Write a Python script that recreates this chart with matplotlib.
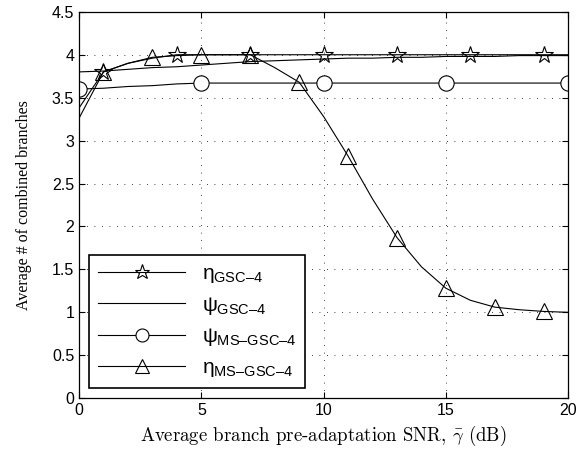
import matplotlib
matplotlib.use('Agg')
import matplotlib.pyplot as plt

plt.rcParams['mathtext.fontset'] = 'cm'
plt.rcParams['mathtext.rm'] = 'Liberation Sans'
plt.rcParams['mathtext.it'] = 'Liberation Sans'
plt.rcParams['mathtext.sf'] = 'Liberation Sans'

snr = list(range(0, 21))

eta_gsc = [3.26, 3.80, 3.90, 3.96, 4.00, 4.00, 4.00, 4.00, 4.00, 4.00, 4.00,
           4.00, 4.00, 4.00, 4.00, 4.00, 4.00, 4.00, 4.00, 4.00, 4.00]
psi_gsc = [3.80, 3.81, 3.83, 3.85, 3.86, 3.88, 3.90, 3.92, 3.93, 3.94, 3.95,
           3.96, 3.96, 3.97, 3.97, 3.98, 3.98, 3.98, 3.99, 3.99, 3.99]
psi_ms = [3.60, 3.61, 3.63, 3.64, 3.66, 3.67, 3.67, 3.67, 3.67, 3.67, 3.67,
          3.67, 3.67, 3.67, 3.67, 3.67, 3.67, 3.67, 3.67, 3.67, 3.67]
eta_ms = [3.38, 3.80, 3.90, 3.97, 3.99, 4.00, 4.00, 4.00, 3.85, 3.68, 3.28,
          2.82, 2.32, 1.87, 1.53, 1.28, 1.14, 1.06, 1.03, 1.01, 1.00]

labels = [r'$\eta_{\mathsf{GSC{\u2013}4}}$', r'$\psi_{\mathsf{GSC{\u2013}4}}$',
          r'$\psi_{\mathsf{MS{\u2013}GSC{\u2013}4}}$', r'$\eta_{\mathsf{MS{\u2013}GSC{\u2013}4}}$']
labels = [l.replace('\\u2013', '\u2013') for l in labels]

fig = plt.figure(figsize=(5.81, 4.54), dpi=100)
ax = fig.add_axes([0.136, 0.123, 0.842, 0.851])

lw = 0.8
ax.plot(snr, eta_gsc, 'k-', lw=lw, marker='*', ms=13, mfc='none', mew=0.8,
        markevery=slice(1, None, 3), label=labels[0])
ax.plot(snr, psi_gsc, 'k-', lw=lw, label=labels[1])
ax.plot(snr, psi_ms, 'k-', lw=lw, marker='o', ms=11, mfc='white', mew=0.8,
        markevery=slice(0, None, 5), label=labels[2])
ax.plot(snr, eta_ms, 'k-', lw=lw, marker='^', ms=12, mfc='none', mew=0.8,
        markevery=slice(1, None, 2), label=labels[3])

ax.set_xlim(0, 20)
ax.set_ylim(0, 4.5)
ax.set_xticks([0, 5, 10, 15, 20])
ax.set_yticks([0, 0.5, 1, 1.5, 2, 2.5, 3, 3.5, 4, 4.5])
ax.set_yticklabels(['0', '0.5', '1', '1.5', '2', '2.5', '3', '3.5', '4', '4.5'])
ax.tick_params(direction='in', top=True, right=True, labelsize=11.5, length=4)
for lab in ax.get_xticklabels() + ax.get_yticklabels():
    lab.set_family('Liberation Sans')
ax.grid(True, color='k', linestyle=(0, (1, 8)), linewidth=0.6)
for sp in ax.spines.values():
    sp.set_linewidth(0.9)

ax.set_xlabel(r'Average branch pre-adaptation SNR, $\bar{\gamma}$ (dB)',
              family='cmr10', fontsize=13.5, labelpad=4, math_fontfamily='cm')
ax.set_ylabel('Average # of combined branches', family='Liberation Serif',
              fontsize=11.5, labelpad=14)

leg = ax.legend(loc='lower left', bbox_to_anchor=(0.0, 0.0), fontsize=15,
                handlelength=4.2, fancybox=False, edgecolor='k',
                framealpha=1, borderpad=0.4, labelspacing=0.45,
                markerscale=0.85)
for t in leg.get_texts():
    t.set_math_fontfamily('custom')
leg.get_frame().set_linewidth(1.2)

fig.savefig('out.png', dpi=100)
